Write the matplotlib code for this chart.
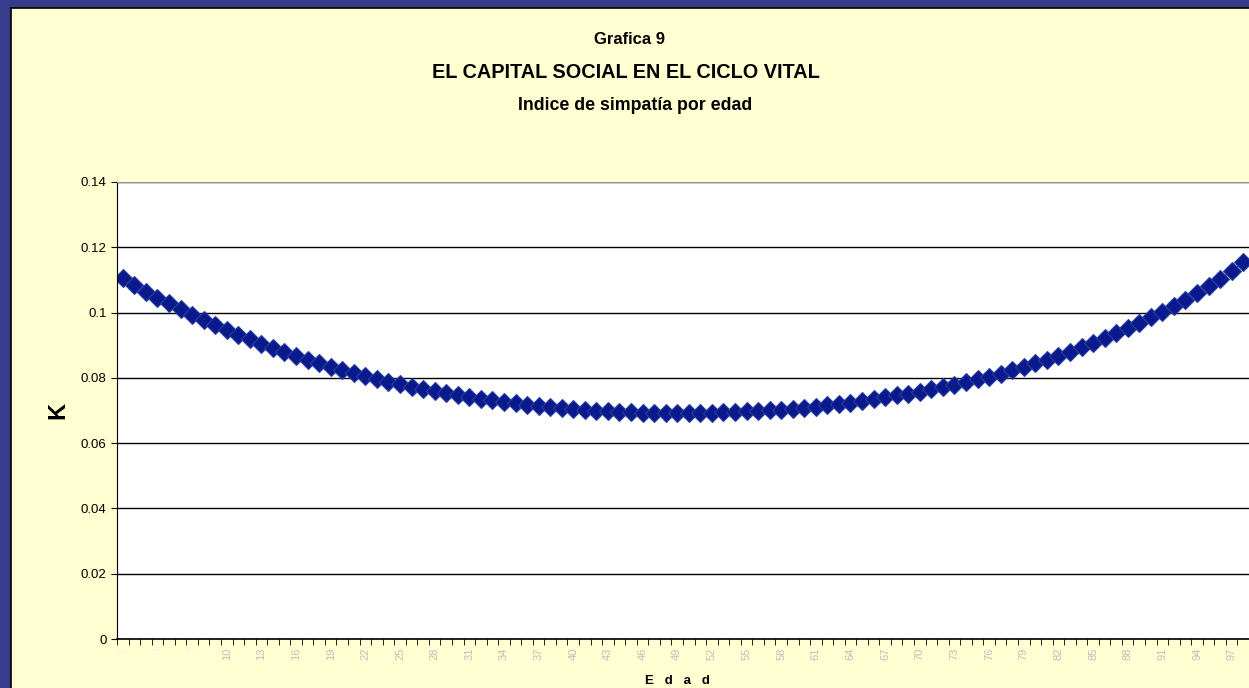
#!/usr/bin/env python3
# -*- coding: utf-8 -*-
import numpy as np
import matplotlib.pyplot as plt
from matplotlib.patches import Rectangle

plt.rcParams['font.family'] = ['Liberation Sans', 'DejaVu Sans']

# Edad (categorias 1..98) e indice de simpatia K
edad = list(range(1, 99))
k = [0.1105, 0.1084, 0.1064, 0.1046, 0.1028, 0.1011, 0.0994, 0.0978, 0.0962, 0.0947,
     0.0932, 0.0918, 0.0904, 0.0891, 0.0879, 0.0867, 0.0856, 0.0845, 0.0834, 0.0824,
     0.0814, 0.0805, 0.0796, 0.0788, 0.0780, 0.0773, 0.0766, 0.0759, 0.0753, 0.0747,
     0.0741, 0.0736, 0.0731, 0.0727, 0.0722, 0.0718, 0.0714, 0.0710, 0.0707, 0.0704,
     0.0701, 0.0699, 0.0697, 0.0695, 0.0694, 0.0693, 0.0692, 0.0692, 0.0692, 0.0692,
     0.0692, 0.0693, 0.0694, 0.0695, 0.0697, 0.0699, 0.0701, 0.0703, 0.0706, 0.0709,
     0.0712, 0.0716, 0.0720, 0.0724, 0.0729, 0.0734, 0.0740, 0.0746, 0.0752, 0.0758,
     0.0765, 0.0772, 0.0779, 0.0787, 0.0795, 0.0804, 0.0813, 0.0823, 0.0833, 0.0844,
     0.0855, 0.0867, 0.0880, 0.0893, 0.0907, 0.0921, 0.0936, 0.0952, 0.0968, 0.0985,
     0.1003, 0.1021, 0.1040, 0.1060, 0.1081, 0.1103, 0.1127, 0.1155]
tick_edad = edad[::3]
y_ticks = [0, 0.02, 0.04, 0.06, 0.08, 0.1, 0.12, 0.14]
y_labels = ['0', '0.02', '0.04', '0.06', '0.08', '0.1', '0.12', '0.14']

W, H = 1249, 688
fig = plt.figure(figsize=(W / 100, H / 100), dpi=100, facecolor='#373c8c')

# panel amarillo del grafico (ejes de fondo)
bg = fig.add_axes([0, 0, 1, 1], zorder=0)
bg.set_xlim(0, W)
bg.set_ylim(H, 0)
bg.axis('off')
bg.add_patch(Rectangle((11, 8), W, H, facecolor='#ffffd2',
                       edgecolor='black', linewidth=1.2))

ax = fig.add_axes([117 / W, 49 / H, (W - 117) / W, (639 - 182) / H], zorder=2)
ax.set_facecolor('white')
ax.plot(edad, k, color='#0a1a8c', linewidth=1, marker='D', markersize=9,
        markerfacecolor='#0a1a8c', markeredgecolor='#2a3ea0', markeredgewidth=0.8)

ax.set_xlim(0.5, 98.5)
ax.set_ylim(0, 0.14)
ax.set_yticks(y_ticks)
ax.set_yticklabels(y_labels, fontsize=9.5)
ax.yaxis.grid(True, color='black', linewidth=1)
ax.set_axisbelow(True)

ax.set_xticks(tick_edad)
ax.set_xticklabels([str(e) for e in tick_edad], rotation=90, fontsize=8,
                   color='#bdbdbd')
for lab in ax.get_xticklabels()[:3]:
    lab.set_color('#f4f4f0')
ax.set_xticks(np.arange(0.5, 99, 1), minor=True)
ax.tick_params(axis='x', which='major', length=0, pad=6)
ax.tick_params(axis='x', which='minor', length=4, direction='out', color='black')
ax.tick_params(axis='y', length=4, direction='out', color='black')

ax.spines['right'].set_visible(False)
ax.spines['top'].set_color('#999999')
ax.spines['left'].set_color('black')
ax.spines['bottom'].set_color('black')
ax.spines['bottom'].set_linewidth(1.2)

ax.set_ylabel('K', fontsize=17, fontweight='bold', labelpad=8)
ax.set_xlabel('E   d   a   d', fontsize=9.5, fontweight='bold')
ax.xaxis.set_label_coords((677 - 117) / (W - 117), -0.078)

fig.text(630 / W, 1 - 40 / H, 'Grafica 9', ha='center', va='center',
         fontsize=12, fontweight='bold', zorder=3)
fig.text(626 / W, 1 - 73 / H, 'EL CAPITAL SOCIAL EN EL CICLO VITAL', ha='center',
         va='center', fontsize=14.3, fontweight='bold', zorder=3)
fig.text(635 / W, 1 - 106 / H, 'Indice de simpatía por edad', ha='center',
         va='center', fontsize=12.8, fontweight='bold', zorder=3)

fig.savefig('out.png', dpi=100, facecolor=fig.get_facecolor())
